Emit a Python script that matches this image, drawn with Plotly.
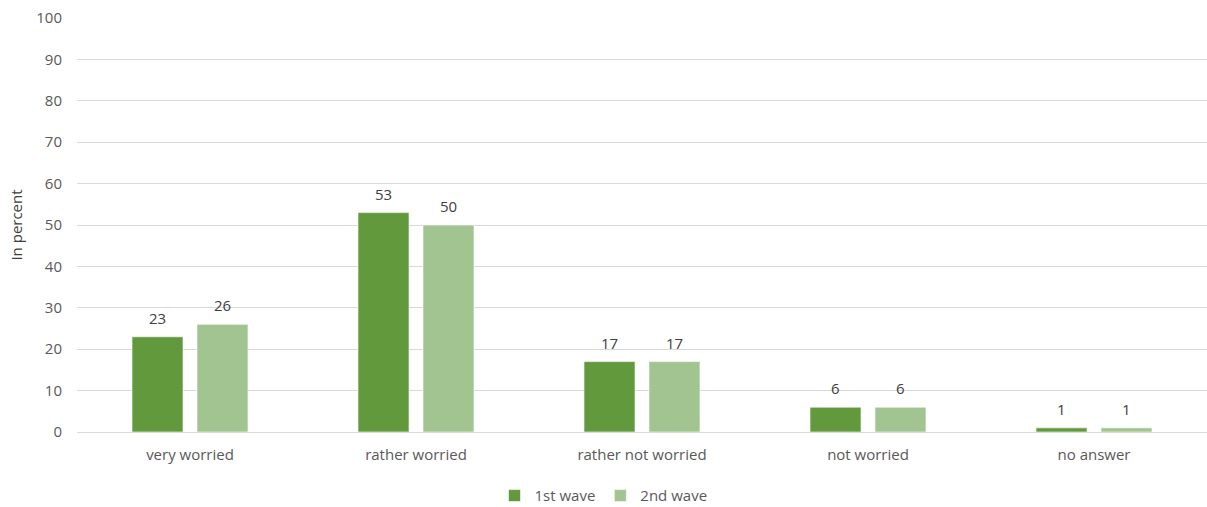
import plotly.graph_objects as go

categories = ["very worried", "rather worried", "rather not worried", "not worried", "no answer"]
wave1 = [23, 53, 17, 6, 1]
wave2 = [26, 50, 17, 6, 1]
series_names = ["1st wave", "2nd wave"]
y_ticks = [0, 10, 20, 30, 40, 50, 60, 70, 80, 90, 100]

font_family = "Open Sans, Liberation Sans, sans-serif"
colors = ["#63993D", "#A2C490"]

fig = go.Figure()
for name, vals, col in zip(series_names, [wave1, wave2], colors):
    fig.add_trace(go.Bar(
        x=categories, y=vals, name=name,
        marker=dict(color=col, line=dict(color="rgba(255,255,255,0.6)", width=1)),
        cliponaxis=False,
    ))

# value labels above bars, offset to each bar of the group
for vals, shift in zip([wave1, wave2], [-32.5, 32.5]):
    for cat, v in zip(categories, vals):
        fig.add_annotation(x=cat, y=v, text=str(v), showarrow=False,
                           xshift=shift, yshift=7, yanchor="bottom",
                           font=dict(size=15, color="#404040", family=font_family))

fig.update_layout(
    width=1207, height=507,
    margin=dict(l=77, r=0, t=18, b=75, autoexpand=False),
    paper_bgcolor="white", plot_bgcolor="white",
    barmode="group", bargap=0.425, bargroupgap=0.215,
    font=dict(family=font_family, size=15, color="#595959"),
    showlegend=True,
    legend=dict(orientation="h", x=0.5, xanchor="center", xref="container",
                y=0.022, yanchor="middle", yref="container",
                font=dict(size=15, color="#595959"), itemwidth=30, traceorder="normal"),
    xaxis=dict(showgrid=False, showline=False, ticks="", ticklabelstandoff=12, automargin=False,
               tickfont=dict(size=15, color="#595959")),
    yaxis=dict(range=[0, 100], tickvals=y_ticks, showgrid=True, gridcolor="#D9D9D9",
               gridwidth=1, zeroline=True, zerolinecolor="#D9D9D9", zerolinewidth=1,
               automargin=False,
               ticklabelstandoff=14, tickfont=dict(size=15, color="#595959"),
               title=dict(text="In percent", font=dict(size=15, color="#404040"), standoff=10)),
)

fig.write_html("out.html")
